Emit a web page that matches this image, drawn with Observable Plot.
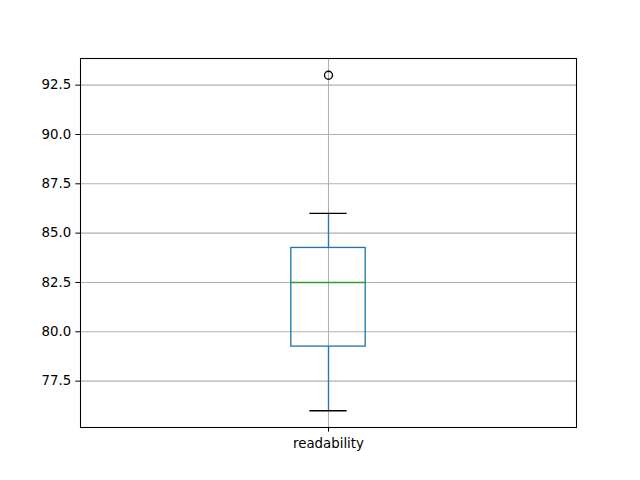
<!DOCTYPE html>
<html>
<head>
<meta charset="utf-8">
<script src="https://cdn.jsdelivr.net/npm/d3@7"></script>
<script src="https://cdn.jsdelivr.net/npm/@observablehq/plot@0.6"></script>
<style>
  html, body { margin: 0; padding: 0; background: #fff; }
  #chart svg { display: block; font-family: "DejaVu Sans", sans-serif; }
</style>
</head>
<body>
<div id="chart"></div>
<script>
// Data
const categories = ["readability"];
const whiskerLow = [76];
const q1 = [79.25];
const median = [82.5];
const q3 = [84.25];
const whiskerHigh = [86];
const outliers = [[93]];
const yTicks = [77.5, 80.0, 82.5, 85.0, 87.5, 90.0, 92.5];

const stats = categories.map((c, i) => ({
  name: c, pos: i + 1,
  lo: whiskerLow[i], q1: q1[i], med: median[i], q3: q3[i], hi: whiskerHigh[i]
}));
const fliers = categories.flatMap((c, i) => outliers[i].map(v => ({pos: i + 1, value: v})));

const boxHalf = 0.075, capHalf = 0.0375;
const blue = "#1f77b4", green = "#2ca02c";

const chart = Plot.plot({
  width: 640,
  height: 480,
  marginLeft: 80,
  marginRight: 64,
  marginTop: 58,
  marginBottom: 53,
  style: {fontFamily: "DejaVu Sans, sans-serif", fontSize: "13.33px", color: "black", background: "white"},
  x: {domain: [0.5, categories.length + 0.5]},
  y: {domain: [75.15, 93.85]},
  marks: [
    Plot.gridY(yTicks, {stroke: "#b0b0b0", strokeOpacity: 1, strokeWidth: 1.07}),
    Plot.gridX(stats.map(d => d.pos), {stroke: "#b0b0b0", strokeOpacity: 1, strokeWidth: 1.07}),
    Plot.ruleX(stats, {x: "pos", y1: "lo", y2: "q1", stroke: blue, strokeWidth: 1.33}),
    Plot.ruleX(stats, {x: "pos", y1: "q3", y2: "hi", stroke: blue, strokeWidth: 1.33}),
    Plot.rect(stats, {x1: d => d.pos - boxHalf, x2: d => d.pos + boxHalf, y1: "q1", y2: "q3", fill: "none", stroke: blue, strokeWidth: 1.33}),
    Plot.ruleY(stats, {y: "med", x1: d => d.pos - boxHalf, x2: d => d.pos + boxHalf, stroke: green, strokeWidth: 1.33}),
    Plot.ruleY(stats, {y: "lo", x1: d => d.pos - capHalf, x2: d => d.pos + capHalf, stroke: "black", strokeWidth: 1.33}),
    Plot.ruleY(stats, {y: "hi", x1: d => d.pos - capHalf, x2: d => d.pos + capHalf, stroke: "black", strokeWidth: 1.33}),
    Plot.dot(fliers, {x: "pos", y: "value", r: 4, stroke: "black", fill: "none", strokeWidth: 1.33}),
    Plot.frame({stroke: "black", strokeWidth: 1.07}),
    Plot.axisY({ticks: yTicks, tickFormat: d => d.toFixed(1), tickSize: 4.67, tickPadding: 4.67, fontSize: 13.33, label: null, stroke: "black"}),
    Plot.axisX({ticks: stats.map(d => d.pos), tickFormat: d => categories[d - 1], tickSize: 4.67, tickPadding: 6.5, fontSize: 13.33, label: null, stroke: "black"})
  ]
});
document.getElementById("chart").appendChild(chart);
</script>
</body>
</html>
